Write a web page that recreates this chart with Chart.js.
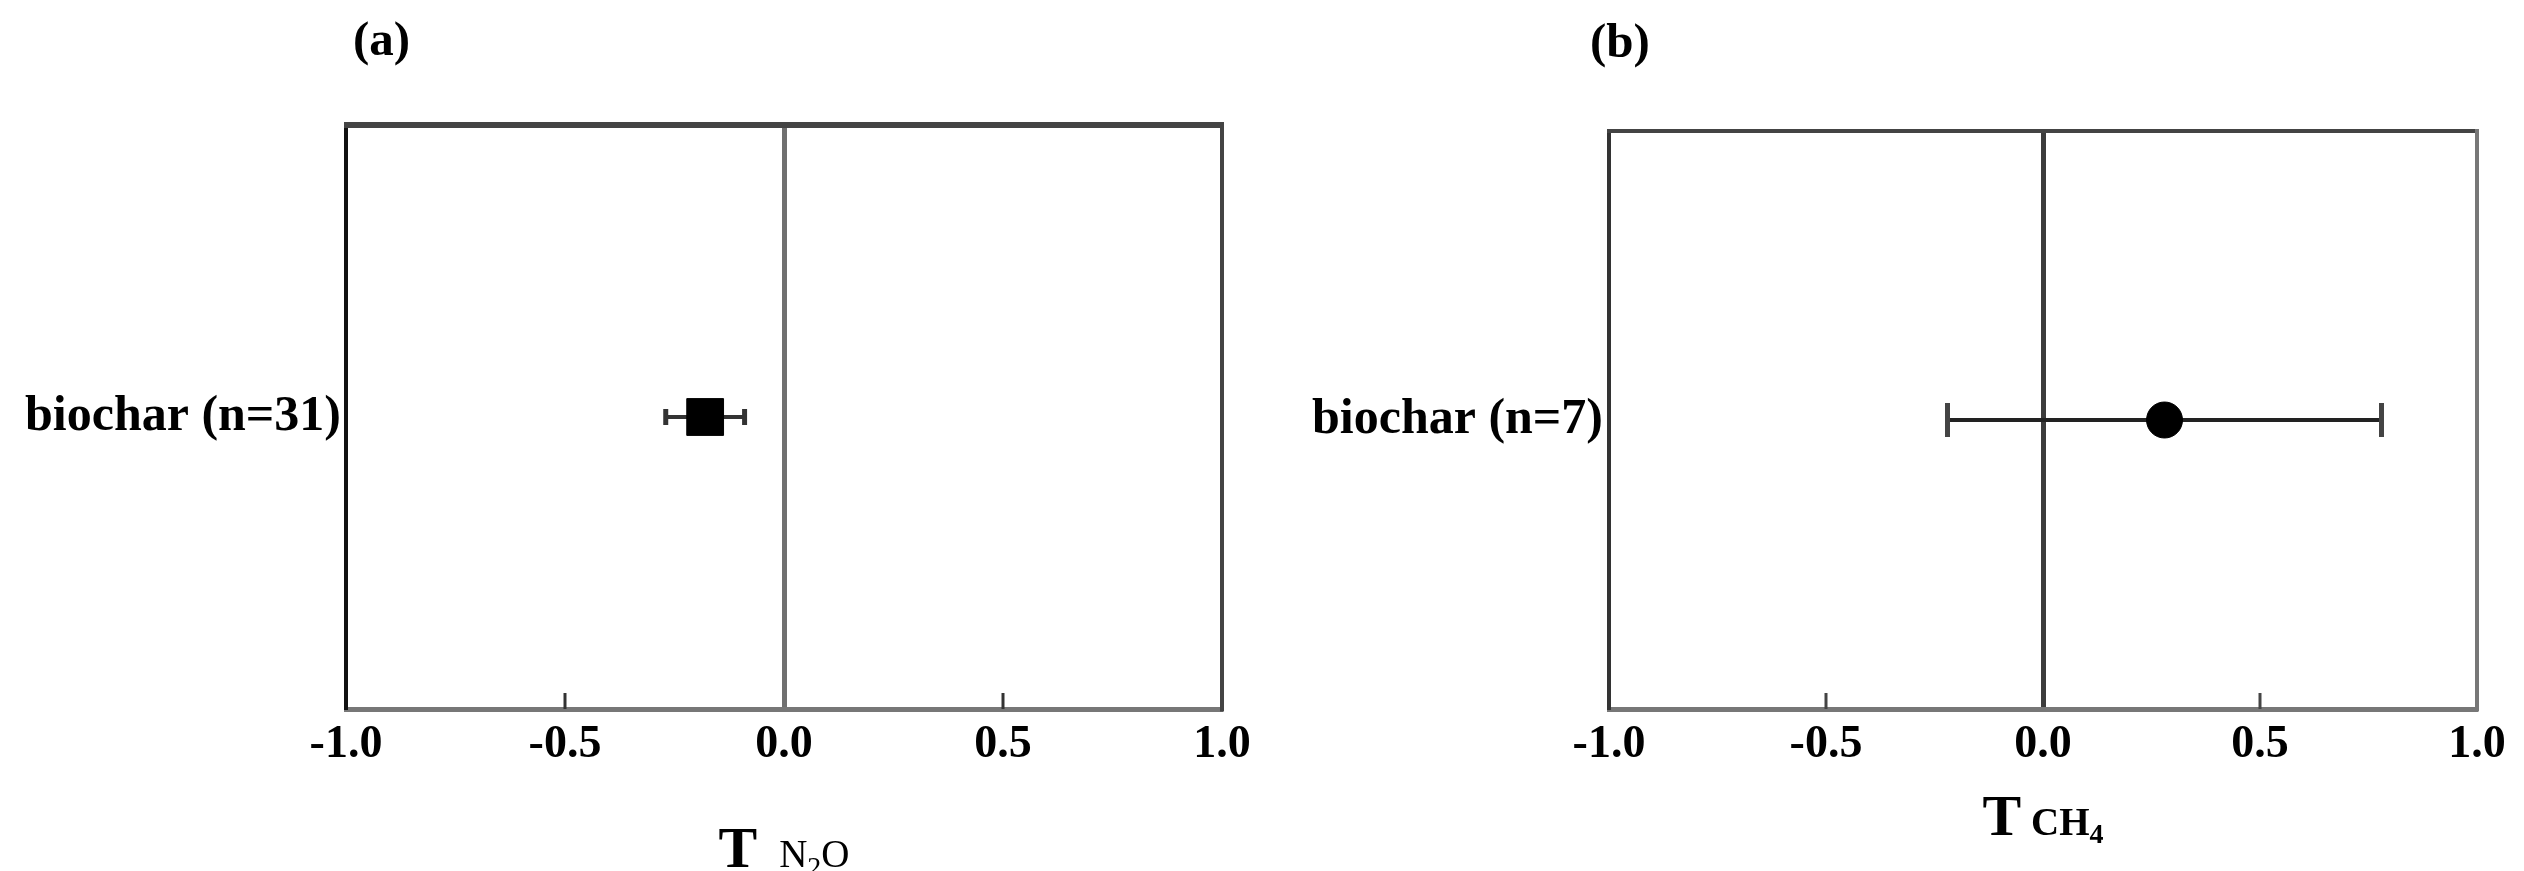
<!DOCTYPE html>
<html><head><meta charset="utf-8">
<script src="https://cdn.jsdelivr.net/npm/chart.js@4.4.1/dist/chart.umd.min.js"></script>
<style>
html,body{margin:0;padding:0;background:#fff;width:2524px;height:871px;overflow:hidden}
canvas{position:absolute;top:0}
#ca{left:0}
#cb{left:1290px}
</style></head><body>
<canvas id="ca" width="1290" height="871"></canvas>
<canvas id="cb" width="1234" height="871"></canvas>
<script>
// ---- data ----
const panelLabels = ['(a)', '(b)'];
const categoriesA = ['biochar (n=31)'];
const meanA = [-0.18];
const lowerA = [-0.27];
const upperA = [-0.09];
const categoriesB = ['biochar (n=7)'];
const meanB = [0.28];
const lowerB = [-0.22];
const upperB = [0.78];
const xTickValues = [-1.0, -0.5, 0.0, 0.5, 1.0];
const innerTickValues = [-0.5, 0.5];
const titleMain = 'T';
const titleSubA = [['N', false], ['2', true], ['O', false]];
const titleSubB = [['C', false], ['H', false], ['4', true]];

const SERIF = "'Liberation Serif','Times New Roman',serif";

function buildChart(canvasId, d, s) {
  const framePlugin = {
    id: 'frame_' + canvasId,
    afterDraw(chart) {
      const ctx = chart.ctx, a = chart.chartArea, x = chart.scales.x;
      ctx.save();
      // top border
      ctx.strokeStyle = s.topColor; ctx.lineWidth = s.topWidth;
      ctx.beginPath(); ctx.moveTo(a.left - s.leftWidth / 2, a.top); ctx.lineTo(a.right + s.rightWidth / 2, a.top); ctx.stroke();
      // right border
      ctx.strokeStyle = s.rightColor; ctx.lineWidth = s.rightWidth;
      ctx.beginPath(); ctx.moveTo(a.right, a.top - s.topWidth / 2); ctx.lineTo(a.right, a.bottom + s.bottomWidth / 2); ctx.stroke();
      // inward tick marks
      ctx.strokeStyle = s.innerTickColor; ctx.lineWidth = s.innerTickWidth;
      innerTickValues.forEach(v => {
        const px = x.getPixelForValue(v);
        ctx.beginPath(); ctx.moveTo(px, a.bottom); ctx.lineTo(px, a.bottom - s.innerTickLen); ctx.stroke();
      });
      // panel label
      ctx.fillStyle = '#000'; ctx.textAlign = 'left'; ctx.textBaseline = 'alphabetic';
      ctx.font = 'bold 49px ' + SERIF;
      ctx.fillText(d.panel, a.left + s.panelDx, s.panelBaseline);
      // axis title with subscript
      const mainFont = 'bold 58px ' + SERIF;
      const subFont = s.subWeight + ' 39px ' + SERIF;
      const subsubFont = s.subWeight + ' 28px ' + SERIF;
      ctx.font = mainFont;
      const wMain = ctx.measureText(titleMain).width;
      let total = wMain + s.titleGap;
      const widths = d.sub.map(([t, lower]) => { ctx.font = lower ? subsubFont : subFont; const w = ctx.measureText(t).width; total += w; return w; });
      let cx = (a.left + a.right) / 2 - total / 2;
      ctx.font = mainFont; ctx.fillText(titleMain, cx, s.titleBaseline);
      cx += wMain + s.titleGap;
      d.sub.forEach(([t, lower], i) => {
        ctx.font = lower ? subsubFont : subFont;
        ctx.fillText(t, cx, s.titleBaseline + (lower ? s.subDrop : 0));
        cx += widths[i];
      });
      ctx.restore();
    }
  };

  return new Chart(document.getElementById(canvasId), {
    type: 'scatter',
    data: {
      datasets: [
        {
          data: d.categories.map((c, i) => ({ x: d.mean[i], y: c })),
          pointStyle: s.pointStyle, pointRadius: s.pointRadius,
          pointBackgroundColor: '#000', pointBorderColor: '#000', pointBorderWidth: 1,
          backgroundColor: '#000', borderColor: '#000'
        },
        {
          data: d.categories.flatMap((c, i) => [{ x: d.lower[i], y: c }, { x: d.upper[i], y: c }]),
          showLine: true, borderColor: s.errColor, borderWidth: s.errWidth,
          pointStyle: 'line', pointRotation: 90, pointRadius: s.capHalf,
          pointBorderWidth: s.capWidth, pointBorderColor: s.capColor, pointBackgroundColor: s.capColor
        }
      ]
    },
    options: {
      responsive: false, animation: false, events: [],
      devicePixelRatio: 1,
      layout: { padding: { top: s.topPad, right: s.rightPad, left: 0, bottom: 0 } },
      plugins: { legend: { display: false }, tooltip: { enabled: false }, title: { display: false } },
      scales: {
        x: {
          type: 'linear', min: -1, max: 1,
          afterBuildTicks: (scale) => { scale.ticks = xTickValues.map(v => ({ value: v })); },
          ticks: {
            font: { family: SERIF, size: 46, weight: 'bold' }, color: '#000', padding: s.xTickPad,
            maxRotation: 0, autoSkip: false, callback: (v) => Number(v).toFixed(1)
          },
          grid: {
            drawTicks: false,
            color: (c) => (c.tick && c.tick.value === 0) ? s.zeroColor : 'rgba(0,0,0,0)',
            lineWidth: (c) => (c.tick && c.tick.value === 0) ? s.zeroWidth : 1
          },
          border: { display: true, color: s.bottomColor, width: s.bottomWidth },
          afterFit: (scale) => { scale.height = s.xAxisHeight; }
        },
        y: {
          type: 'category', labels: d.categories, offset: true,
          ticks: { font: { family: SERIF, size: 50, weight: 'bold' }, color: '#000', padding: s.yTickPad },
          grid: { display: true, drawOnChartArea: false, drawTicks: false, color: 'rgba(0,0,0,0)' },
          border: { display: true, color: s.leftColor, width: s.leftWidth },
          afterFit: (scale) => { scale.width = s.yAxisWidth; }
        }
      }
    },
    plugins: [framePlugin]
  });
}

buildChart('ca',
  { panel: panelLabels[0], categories: categoriesA, mean: meanA, lower: lowerA, upper: upperA, sub: titleSubA },
  { topPad: 125, rightPad: 68, yAxisWidth: 346, xAxisHeight: 162, xTickPad: 9, yTickPad: 5,
    pointStyle: 'rect', pointRadius: 26, errColor: '#333', errWidth: 4, capHalf: 8, capWidth: 5, capColor: '#333',
    zeroColor: '#707070', zeroWidth: 5, bottomColor: '#777', bottomWidth: 5, leftColor: '#111', leftWidth: 4,
    topColor: '#444', topWidth: 6, rightColor: '#444', rightWidth: 4,
    innerTickColor: '#333', innerTickWidth: 3, innerTickLen: 16,
    panelDx: 7, panelBaseline: 55, titleBaseline: 867, titleGap: 22, subDrop: 9, subWeight: 'normal' });

buildChart('cb',
  { panel: panelLabels[1], categories: categoriesB, mean: meanB, lower: lowerB, upper: upperB, sub: titleSubB },
  { topPad: 131, rightPad: 47, yAxisWidth: 319, xAxisHeight: 162, xTickPad: 9, yTickPad: 6,
    pointStyle: 'circle', pointRadius: 18, errColor: '#222', errWidth: 4, capHalf: 17, capWidth: 5, capColor: '#444',
    zeroColor: '#3c3c3c', zeroWidth: 5, bottomColor: '#777', bottomWidth: 5, leftColor: '#333', leftWidth: 4,
    topColor: '#444', topWidth: 4, rightColor: '#777', rightWidth: 4,
    innerTickColor: '#444', innerTickWidth: 3, innerTickLen: 16,
    panelDx: -19, panelBaseline: 57, titleBaseline: 835, titleGap: 10, subDrop: 8, subWeight: 'bold' });
</script>
</body></html>
